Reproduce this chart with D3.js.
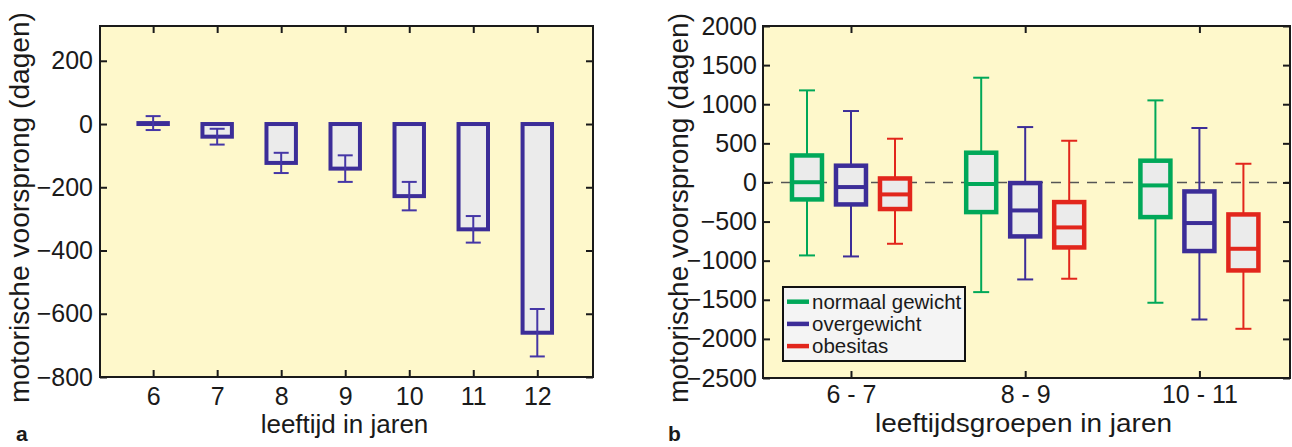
<!DOCTYPE html>
<html>
<head>
<meta charset="utf-8">
<script src="https://cdn.jsdelivr.net/npm/d3@7"></script>
<style>
  body { margin: 0; background: #fff; }
  svg { display: block; }
  text { font-family: "Liberation Sans", Arial, sans-serif; fill: #1a1a1a; }
</style>
</head>
<body>
<svg id="graph" width="1292" height="447"></svg>
<script>
// panel a: mean motor advantage per age with error bars
var ages = [6, 7, 8, 9, 10, 11, 12];
var meanVals = [3, -40, -123, -141, -228, -333, -660];
var errVals = [22, 25, 32, 42, 45, 42, 75];
var ticksA = [200, 0, -200, -400, -600, -800];

// panel b: boxplots [min, q1, median, q3, max] per age group
var groups = ["6 - 7", "8 - 9", "10 - 11"];
var seriesNames = ["normaal gewicht", "overgewicht", "obesitas"];
var normaalGewicht = [[-933, -217, 3, 345, 1177], [-1402, -379, -20, 380, 1339], [-1538, -443, -38, 278, 1049]];
var overgewicht = [[-946, -281, -59, 214, 913], [-1240, -690, -358, -8, 708], [-1752, -877, -519, -115, 696]];
var obesitas = [[-784, -340, -153, 51, 559], [-1231, -831, -575, -251, 533], [-1871, -1125, -848, -409, 239]];
var ticksB = [2000, 1500, 1000, 500, 0, -500, -1000, -1500, -2000, -2500];

var colors = ["#00a859", "#3c2d98", "#e2261c"];
var bgYellow = "#fef8cb";
var boxFill = "#ebebeb";

var svg = d3.select("#graph");

function frameAxes(g, x, y, w, h, xTicks, yTicks, xFmt, xPad, yPad) {
	g.append("g")
	 .attr("transform", "translate(0," + h + ")")
	 .call(d3.axisBottom(x).tickValues(xTicks).tickFormat(xFmt).tickSizeInner(-7).tickSizeOuter(0).tickPadding(xPad))
	 .call(styleAxis);
	g.append("g")
	 .call(d3.axisTop(x).tickValues(xTicks).tickFormat("").tickSizeInner(-7).tickSizeOuter(0))
	 .call(styleAxis);
	g.append("g")
	 .call(d3.axisLeft(y).tickValues(yTicks).tickFormat(d3.format("d")).tickSizeInner(-7).tickSizeOuter(0).tickPadding(yPad))
	 .call(styleAxis);
	g.append("g")
	 .attr("transform", "translate(" + w + ",0)")
	 .call(d3.axisRight(y).tickValues(yTicks).tickFormat("").tickSizeInner(-7).tickSizeOuter(0))
	 .call(styleAxis);
	g.append("rect")
	 .attr("width", w).attr("height", h)
	 .attr("fill", "none").attr("stroke", "#1a1a1a").attr("stroke-width", 2);
}

function styleAxis(sel) {
	sel.select(".domain").remove();
	sel.selectAll(".tick line").attr("stroke", "#1a1a1a").attr("stroke-width", 2);
	sel.selectAll(".tick text").attr("font-size", "25px").attr("fill", "#1a1a1a");
}

// ---------- panel a ----------
var aL = 100, aT = 26, aW = 493, aH = 351;
var xA = d3.scaleLinear().domain([5.17, 12.87]).range([0, aW]);
var yA = d3.scaleLinear().domain([-800, 310]).range([aH, 0]);
var gA = svg.append("g").attr("transform", "translate(" + aL + "," + aT + ")");

gA.append("rect").attr("width", aW).attr("height", aH).attr("fill", bgYellow);

var barW = (xA(1) - xA(0)) * 0.46;
gA.selectAll(".bar")
  .data(ages)
  .enter().append("rect")
  .attr("class", "bar")
  .attr("x", function(d) { return xA(d) - barW / 2; })
  .attr("y", function(d, i) { return yA(Math.max(0, meanVals[i])); })
  .attr("width", barW)
  .attr("height", function(d, i) { return Math.abs(yA(meanVals[i]) - yA(0)); })
  .attr("fill", boxFill)
  .attr("stroke", colors[1])
  .attr("stroke-width", 4);

var errG = gA.selectAll(".err")
  .data(ages)
  .enter().append("g")
  .attr("class", "err")
  .attr("stroke", "#4536a6")
  .attr("stroke-width", 2);
errG.append("line")
  .attr("x1", function(d) { return xA(d); })
  .attr("x2", function(d) { return xA(d); })
  .attr("y1", function(d, i) { return yA(meanVals[i] + errVals[i]); })
  .attr("y2", function(d, i) { return yA(meanVals[i] - errVals[i]); });
[1, -1].forEach(function(s) {
	errG.append("line")
	  .attr("x1", function(d) { return xA(d) - 7.5; })
	  .attr("x2", function(d) { return xA(d) + 7.5; })
	  .attr("y1", function(d, i) { return yA(meanVals[i] + s * errVals[i]); })
	  .attr("y2", function(d, i) { return yA(meanVals[i] + s * errVals[i]); });
});

frameAxes(gA, xA, yA, aW, aH, ages, ticksA, d3.format("d"), 10, 7);

svg.append("text")
   .attr("transform", "translate(29," + 207.5 + ") rotate(-90)")
   .attr("text-anchor", "middle")
   .attr("font-size", "27px")
   .attr("textLength", 391).attr("lengthAdjust", "spacingAndGlyphs")
   .text("motorische voorsprong (dagen)");

svg.append("text")
   .attr("x", 344.5).attr("y", 433)
   .attr("text-anchor", "middle")
   .attr("font-size", "26px")
   .text("leeftijd in jaren");

svg.append("text")
   .attr("x", 16).attr("y", 441)
   .attr("font-size", "21px").attr("font-weight", "bold")
   .text("a");

// ---------- panel b ----------
var bL = 763, bT = 26, bW = 527, bH = 352;
var xB = d3.scaleLinear().domain([0.495, 3.52]).range([0, bW]);
var yB = d3.scaleLinear().domain([-2500, 2000]).range([bH, 0]);
var gB = svg.append("g").attr("transform", "translate(" + bL + "," + bT + ")");

gB.append("rect").attr("width", bW).attr("height", bH).attr("fill", bgYellow);

gB.append("line")
  .attr("x1", 0).attr("x2", bW)
  .attr("y1", yB(0)).attr("y2", yB(0))
  .attr("stroke", "#555").attr("stroke-width", 1.5)
  .attr("stroke-dasharray", "10,8");

var allSeries = [normaalGewicht, overgewicht, obesitas];
var offsets = [-44, 0, 44];
var boxW = 30;

allSeries.forEach(function(series, s) {
	var col = colors[s];
	var g = gB.append("g").attr("class", "series");
	var item = g.selectAll(".box")
	  .data(series)
	  .enter().append("g")
	  .attr("class", "box")
	  .attr("transform", function(d, i) { return "translate(" + (xB(i + 1) + offsets[s]) + ",0)"; });

	// whiskers
	item.append("line")
	  .attr("x1", 0).attr("x2", 0)
	  .attr("y1", function(d) { return yB(d[4]); })
	  .attr("y2", function(d) { return yB(d[0]); })
	  .attr("stroke", col).attr("stroke-width", 2);
	[0, 4].forEach(function(k) {
		item.append("line")
		  .attr("x1", -8).attr("x2", 8)
		  .attr("y1", function(d) { return yB(d[k]); })
		  .attr("y2", function(d) { return yB(d[k]); })
		  .attr("stroke", col).attr("stroke-width", 2);
	});

	item.append("rect")
	  .attr("x", -boxW / 2)
	  .attr("y", function(d) { return yB(d[3]); })
	  .attr("width", boxW)
	  .attr("height", function(d) { return yB(d[1]) - yB(d[3]); })
	  .attr("fill", boxFill)
	  .attr("stroke", col).attr("stroke-width", 4.5);

	item.append("line")
	  .attr("x1", -boxW / 2).attr("x2", boxW / 2)
	  .attr("y1", function(d) { return yB(d[2]); })
	  .attr("y2", function(d) { return yB(d[2]); })
	  .attr("stroke", col).attr("stroke-width", 4);
});

// legend
var leg = svg.append("g").attr("transform", "translate(783,287)");
leg.append("rect")
   .attr("width", 182).attr("height", 74)
   .attr("fill", "#f4f4f4").attr("stroke", "#111").attr("stroke-width", 2);
seriesNames.forEach(function(name, i) {
	var cy = 14.7 + i * 22.2;
	leg.append("line")
	   .attr("x1", 4).attr("x2", 26)
	   .attr("y1", cy).attr("y2", cy)
	   .attr("stroke", colors[i]).attr("stroke-width", 4.5);
	leg.append("text")
	   .attr("x", 29).attr("y", cy)
	   .attr("dy", "0.35em")
	   .attr("font-size", "20.5px")
	   .text(name);
});

frameAxes(gB, xB, yB, bW, bH, [1, 2, 3], ticksB, function(d) { return groups[d - 1]; }, 7, 6);

svg.append("text")
   .attr("transform", "translate(688," + 208 + ") rotate(-90)")
   .attr("text-anchor", "middle")
   .attr("font-size", "27px")
   .attr("textLength", 390).attr("lengthAdjust", "spacingAndGlyphs")
   .text("motorische voorsprong (dagen)");

svg.append("text")
   .attr("x", 1023.5).attr("y", 432)
   .attr("text-anchor", "middle")
   .attr("font-size", "26px")
   .attr("textLength", 297).attr("lengthAdjust", "spacingAndGlyphs")
   .text("leeftijdsgroepen in jaren");

svg.append("text")
   .attr("x", 668).attr("y", 441)
   .attr("font-size", "21px").attr("font-weight", "bold")
   .text("b");
</script>
</body>
</html>
